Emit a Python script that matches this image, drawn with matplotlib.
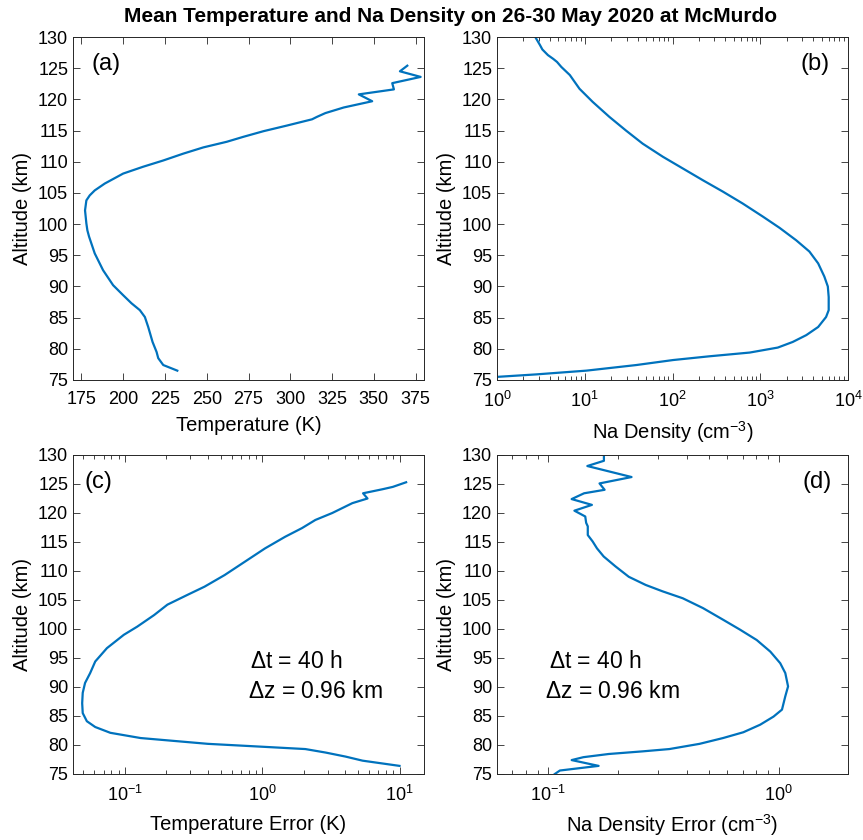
import matplotlib
matplotlib.use("Agg")
import matplotlib.pyplot as plt
import matplotlib.ticker as mticker
import numpy as np

plt.rcParams.update({
    'font.family': ['Liberation Sans', 'DejaVu Sans'],
    'mathtext.default': 'regular',
    'axes.linewidth': 0.7,
    'axes.edgecolor': '#262626',
    'xtick.color': '#262626',
    'ytick.color': '#262626',
    'xtick.labelcolor': 'black',
    'ytick.labelcolor': 'black',
})

LINE_COLOR = '#0072BD'

# (a) mean temperature
temp_alt = [76.5, 77.4, 78.5, 79.5, 81.1, 83.5, 85.1, 86.2, 87.3, 88.6, 90.2, 92.6,
            95.3, 98.0, 99.0, 100.1, 102.2, 103.8, 104.6, 105.4, 106.5, 108.1, 109.2,
            110.2, 111.3, 112.3, 113.2, 114.0, 114.9, 115.8, 116.8, 117.2, 117.8,
            118.7, 119.7, 120.8, 121.6, 122.6, 123.6, 124.5, 125.4]
temp_val = [232.4, 224, 221, 220, 217.6, 215, 213, 210, 205, 200, 194, 188,
            183, 179.6, 178.6, 178, 177.2, 178, 180, 183, 189, 200, 212,
            224, 236, 248, 262, 272, 284, 298, 313, 316, 321,
            332, 349, 341, 362, 361, 378, 365.6, 370]

# (b) mean Na density (log10 of cm^-3)
na_alt = [75.5, 75.9, 76.5, 77.4, 78.2, 78.8, 79.4, 80.2, 81.1, 82.2, 83.5, 85.1,
          86.2, 88.3, 90.0, 91.6, 93.7, 95.6, 97.4, 99.4, 101.2, 103.3, 105.2,
          107.0, 108.9, 110.8, 112.9, 115.0, 117.2, 119.6, 121.7, 123.9, 125.2,
          126.0, 126.5, 127.1, 128.0, 128.7, 129.9, 130.5]
na_log = [0.0, 0.448, 1.018, 1.588, 2.006, 2.42, 2.88, 3.20, 3.37, 3.525, 3.66, 3.75,
          3.78, 3.78, 3.77, 3.73, 3.66, 3.56, 3.41, 3.22, 3.03, 2.80, 2.575,
          2.35, 2.12, 1.89, 1.66, 1.47, 1.28, 1.09, 0.94, 0.83, 0.733,
          0.684, 0.64, 0.58, 0.517, 0.49, 0.44, 0.42]

# (c) temperature error (log10 of K)
terr_alt = [76.4, 77.3, 78.0, 78.7, 79.3, 79.7, 80.2, 81.2, 82.1, 83.1, 84.1, 85.5,
            87.2, 89.0, 90.7, 92.4, 94.4, 96.7, 99.0, 100.4, 102.4, 104.2, 105.9,
            107.3, 109.3, 111.6, 113.9, 115.9, 117.4, 118.8, 120.0, 121.7, 122.5,
            123.4, 124.1, 124.5, 125.3]
terr_log = [0.998, 0.729, 0.606, 0.46, 0.313, 0.0, -0.396, -0.885, -1.105, -1.215,
            -1.276, -1.306, -1.31, -1.306, -1.289, -1.252, -1.215, -1.13, -1.007,
            -0.91, -0.787, -0.69, -0.543, -0.42, -0.274, -0.127, 0.02, 0.166,
            0.289, 0.386, 0.509, 0.655, 0.765, 0.733, 0.875, 0.949, 1.046]

# (d) Na density error (log10 of cm^-3)
nerr_alt = [75.0, 75.6, 76.4, 77.4, 77.9, 78.45, 78.9, 79.3, 80.2, 81.2, 82.2, 83.5,
            84.9, 86.1, 88.4, 90.1, 92.4, 94.1, 96.1, 98.1, 99.9, 101.6, 103.6,
            105.3, 106.5, 107.6, 109.0, 110.8, 112.5, 113.9, 115.1, 116.2, 117.7,
            118.3, 119.4, 120.4, 121.4, 122.4, 123.4, 124.0, 125.1, 126.2, 128.1,
            129.0, 129.7, 130.3]
nerr_log = [-0.971, -0.949, -0.781, -0.898, -0.847, -0.737, -0.591, -0.474, -0.343,
            -0.241, -0.153, -0.080, -0.022, 0.0146, 0.029, 0.041, 0.029, 0.007,
            -0.036, -0.095, -0.168, -0.241, -0.328, -0.416, -0.504, -0.577, -0.65,
            -0.708, -0.759, -0.788, -0.807, -0.828, -0.828, -0.835, -0.839, -0.886,
            -0.810, -0.898, -0.844, -0.755, -0.777, -0.638, -0.83, -0.758, -0.758,
            -0.758]

ALT_TICKS = np.arange(75, 131, 5)

W, H = 863, 840
fig = plt.figure(figsize=(W / 100, H / 100), dpi=100)


def make_axes(left, top, right, bottom):
    return fig.add_axes([left / W, 1 - bottom / H, (right - left) / W, (bottom - top) / H])


ax_a = make_axes(73, 37, 424, 380)
ax_b = make_axes(497, 37, 848, 380)
ax_c = make_axes(73, 455, 424, 774)
ax_d = make_axes(497, 455, 848, 774)


def style(ax, log=False):
    ax.set_ylim(75, 130)
    ax.set_yticks(ALT_TICKS)
    ax.tick_params(which='both', direction='in', top=True, right=True, labelsize=13, width=0.6)
    ax.tick_params(which='major', length=5)
    ax.tick_params(which='minor', length=3)
    ax.tick_params(axis='x', which='major', pad=8)
    ax.set_ylabel('Altitude (km)', fontsize=14.5, labelpad=4)
    if log:
        ax.xaxis.set_minor_formatter(mticker.NullFormatter())
        ax.xaxis.set_major_locator(mticker.LogLocator(base=10, numticks=10))
        ax.xaxis.set_minor_locator(mticker.LogLocator(base=10, subs=np.arange(2, 10), numticks=20))


TXT = 16.5
PANEL = 17

# (a)
ax_a.plot(temp_val, temp_alt, color=LINE_COLOR, lw=1.6)
style(ax_a)
ax_a.set_xlim(170, 380)
ax_a.set_xticks(np.arange(175, 376, 25))
ax_a.set_xlabel('Temperature (K)', fontsize=14.5, labelpad=6)
ax_a.text(0.094, 0.92, '(a)', transform=ax_a.transAxes, fontsize=PANEL, ha='center', va='center')

# (b)
ax_b.plot(10 ** np.array(na_log), na_alt, color=LINE_COLOR, lw=1.6)
ax_b.set_xscale('log')
style(ax_b, log=True)
ax_b.set_xlim(1, 1e4)
ax_b.set_xlabel('Na Density (cm$^{-3}$)', fontsize=14.5, labelpad=6)
ax_b.text(0.905, 0.92, '(b)', transform=ax_b.transAxes, fontsize=PANEL, ha='center', va='center')

# (c)
ax_c.plot(10 ** np.array(terr_log), terr_alt, color=LINE_COLOR, lw=1.6)
ax_c.set_xscale('log')
style(ax_c, log=True)
ax_c.set_xlim(0.042, 15)
ax_c.set_xlabel('Temperature Error (K)', fontsize=14.5, labelpad=7)
ax_c.text(0.072, 0.915, '(c)', transform=ax_c.transAxes, fontsize=PANEL, ha='center', va='center')
ax_c.text(0.505, 0.352, r'$\Delta$t = 40 h', transform=ax_c.transAxes, fontsize=TXT, va='center')
ax_c.text(0.499, 0.258, r'$\Delta$z = 0.96 km', transform=ax_c.transAxes, fontsize=TXT, va='center')

# (d)
ax_d.plot(10 ** np.array(nerr_log), nerr_alt, color=LINE_COLOR, lw=1.6)
ax_d.set_xscale('log')
style(ax_d, log=True)
ax_d.set_xlim(0.06, 2)
ax_d.set_xlabel('Na Density Error (cm$^{-3}$)', fontsize=14.5, labelpad=5)
ax_d.text(0.913, 0.915, '(d)', transform=ax_d.transAxes, fontsize=PANEL, ha='center', va='center')
ax_d.text(0.148, 0.352, r'$\Delta$t = 40 h', transform=ax_d.transAxes, fontsize=TXT, va='center')
ax_d.text(0.136, 0.258, r'$\Delta$z = 0.96 km', transform=ax_d.transAxes, fontsize=TXT, va='center')

fig.text(451 / W, 1 - 17 / H, 'Mean Temperature and Na Density on 26-30 May 2020 at McMurdo',
         ha='center', va='center', fontsize=15, fontweight='bold')

fig.savefig('out.png', dpi=100)
